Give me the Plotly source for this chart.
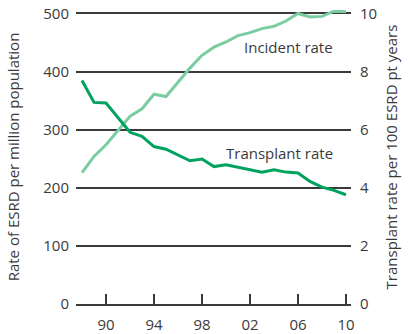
import plotly.graph_objects as go

# ESRD incidence (per million population, left axis) and
# transplant rate (per 100 ESRD patient-years, right axis), 1988-2010
years = list(range(1988, 2011))
incident_rate = [226, 254, 274, 298, 323, 336, 361, 357, 382, 406, 428, 442,
                 451, 462, 467, 474, 478, 487, 500, 494, 495, 504, 503]
transplant_rate = [7.69, 6.94, 6.92, 6.40, 5.91, 5.77, 5.42, 5.33, 5.14, 4.93,
                   4.99, 4.73, 4.79, 4.71, 4.64, 4.54, 4.62, 4.54, 4.51, 4.22,
                   4.02, 3.91, 3.76]

x_tickvals = [1990, 1994, 1998, 2002, 2006, 2010]
x_ticktext = ["90", "94", "98", "02", "06", "10"]
left_ticks = [0, 100, 200, 300, 400, 500]
right_ticks = [0, 2, 4, 6, 8, 10]

LIGHT = "#79cda0"
DARK = "#00a35e"
GRID = "#3a3a3a"
TEXT = "#3a3a3a"
FONT = "'Open Sans', Lato, sans-serif"

fig = go.Figure()
fig.add_trace(go.Scatter(x=years, y=incident_rate, mode="lines",
                         line=dict(color=LIGHT, width=3), yaxis="y",
                         showlegend=False))
fig.add_trace(go.Scatter(x=years, y=transplant_rate, mode="lines",
                         line=dict(color=DARK, width=3), yaxis="y2",
                         showlegend=False))

fig.add_annotation(x=2009.1, y=443, xref="x", yref="y", text="Incident rate",
                   showarrow=False, xanchor="right", yanchor="middle",
                   font=dict(size=15, color=TEXT, family=FONT))
fig.add_annotation(x=2009.1, y=260, xref="x", yref="y", text="Transplant rate",
                   showarrow=False, xanchor="right", yanchor="middle",
                   font=dict(size=15, color=TEXT, family=FONT))

fig.update_layout(
    width=410, height=334,
    margin=dict(l=76, r=59, t=10, b=30),
    paper_bgcolor="white", plot_bgcolor="white",
    font=dict(family=FONT, size=15, color=TEXT),
    xaxis=dict(range=[1987.5, 2010.42], tickvals=x_tickvals, ticktext=x_ticktext,
               ticks="inside", ticklen=10, tickwidth=1.5, tickcolor=GRID,
               showgrid=False, zeroline=False, automargin=False,
               showline=True, linecolor=GRID, linewidth=1.5,
               tickfont=dict(size=15, color=TEXT), ticklabelstandoff=6),
    yaxis=dict(range=[0, 506], tickvals=left_ticks, showgrid=True,
               gridcolor=GRID, gridwidth=1.5, zeroline=False, showline=False,
               ticks="", tickfont=dict(size=15, color=TEXT), automargin=False,
               ticklabelstandoff=6,
               title=dict(text="Rate of ESRD per million population",
                          font=dict(size=15, color=TEXT), standoff=20)),
    yaxis2=dict(range=[0, 10.12], tickvals=right_ticks, overlaying="y",
                side="right", showgrid=False, zeroline=False, showline=False,
                ticks="", tickfont=dict(size=15, color=TEXT), automargin=False,
                ticklabelstandoff=8,
                title=dict(text="Transplant rate per 100 ESRD pt years",
                           font=dict(size=15, color=TEXT), standoff=10)),
)

fig.write_html("out.html")
